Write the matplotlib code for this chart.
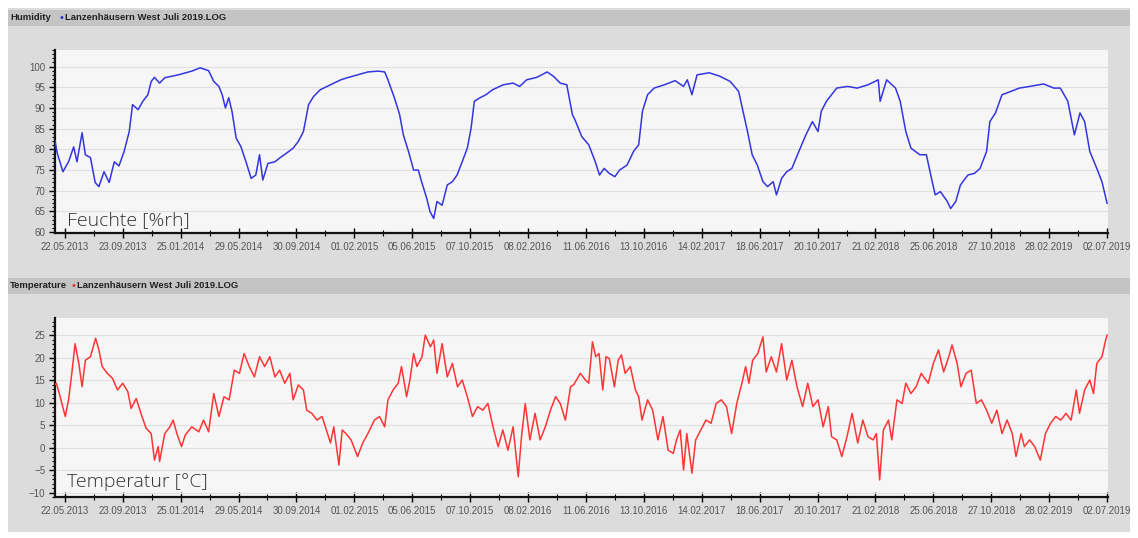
import numpy as np
import matplotlib
matplotlib.use("Agg")
import matplotlib.pyplot as plt
from matplotlib.patches import Rectangle
from matplotlib.ticker import MultipleLocator

# day offsets are counted from the first date label (22.05.2013)
start = np.datetime64("2013-05-22")
label_step = 124
n_labels = 19

hum_days = [-21, -16, -4, 8, 19, 26, 37, 44, 55, 65,
            73, 84, 95, 106, 116, 127, 138, 145, 157, 167,
            178, 185, 192, 203, 214, 243, 272, 290, 308, 319,
            330, 337, 344, 351, 358, 367, 377, 388, 399, 409,
            417, 424, 435, 450, 460, 475, 489, 500, 511, 522,
            533, 547, 569, 591, 605, 627, 649, 671, 685, 692,
            706, 717, 725, 736, 747, 757, 764, 775, 782, 790,
            797, 808, 819, 830, 840, 851, 862, 870, 877, 888,
            902, 916, 939, 960, 974, 989, 1011, 1033, 1047, 1061,
            1075, 1087, 1093, 1107, 1122, 1136, 1145, 1155, 1166, 1178,
            1188, 1204, 1218, 1229, 1237, 1248, 1262, 1284, 1307, 1325,
            1333, 1343, 1354, 1380, 1402, 1425, 1443, 1454, 1462, 1472,
            1483, 1495, 1505, 1517, 1524, 1535, 1546, 1557, 1572, 1587,
            1601, 1613, 1620, 1631, 1653, 1676, 1697, 1720, 1742, 1746,
            1760, 1779, 1789, 1801, 1812, 1831, 1845, 1856, 1864, 1875,
            1890, 1897, 1908, 1918, 1934, 1948, 1960, 1974, 1981, 1993,
            2007, 2026, 2044, 2066, 2096, 2118, 2132, 2148, 2162, 2174,
            2184, 2195, 2210, 2221, 2232]
hum_vals = [82, 79, 74.6, 77, 80.6, 77, 84, 78.7, 78, 72,
            71, 74.6, 72, 77, 76, 79.5, 84.3, 90.8, 89.6, 91.6,
            93.2, 96.4, 97.4, 96, 97.3, 98, 98.9, 99.7, 99, 96.4,
            95.2, 93.2, 90, 92.5, 89.2, 82.7, 80.7, 77, 73, 73.8,
            78.7, 72.6, 76.6, 77, 77.9, 79.1, 80.3, 81.9, 84.3, 90.8,
            92.8, 94.4, 95.6, 96.8, 97.3, 98, 98.7, 98.9, 98.7, 96.8,
            92.4, 88.4, 83.5, 79.5, 75, 75, 72.2, 68.2, 65, 63.3,
            67.4, 66.5, 71.4, 72.2, 73.8, 77, 80.3, 85.1, 91.6, 92.4,
            93.2, 94.4, 95.6, 96, 95.2, 96.8, 97.4, 98.7, 97.6, 96,
            95.6, 88.4, 87, 83.1, 81.1, 77, 73.8, 75.4, 74.2, 73.4,
            75, 76.2, 79.5, 81.1, 89.2, 93.2, 94.8, 95.6, 96.6, 95.2,
            96.8, 93.2, 98, 98.5, 97.7, 96.4, 94, 88.4, 84.3, 78.7,
            76.2, 72.2, 71, 72.2, 69, 73, 74.6, 75.4, 79.5, 83.5,
            86.7, 84.3, 89.2, 91.6, 94.8, 95.2, 94.8, 95.6, 96.8, 91.6,
            96.8, 94.8, 91.6, 84.3, 80.3, 78.7, 78.7, 73, 69, 69.8,
            67.4, 65.7, 67.4, 71.4, 73.8, 74.2, 75.4, 79.5, 86.7, 88.8,
            93.2, 94, 94.8, 95.2, 95.8, 94.8, 94.8, 91.6, 83.5, 88.8,
            86.7, 79.5, 75.4, 72.2, 67]

temp_days = [-25, -18, -10, 1, 8, 15, 22, 30, 37, 44,
             55, 66, 73, 80, 91, 102, 113, 124, 135, 142,
             153, 163, 174, 185, 192, 200, 203, 214, 225, 232,
             240, 250, 258, 272, 287, 297, 308, 319, 330, 341,
             352, 363, 374, 384, 395, 406, 417, 428, 439, 450,
             460, 471, 482, 489, 500, 511, 518, 529, 540, 551,
             558, 569, 576, 587, 594, 602, 613, 627, 638, 649,
             663, 674, 685, 692, 703, 714, 721, 732, 739, 747,
             754, 765, 772, 783, 790, 797, 808, 819, 830, 841,
             851, 862, 873, 884, 895, 906, 917, 928, 938, 949,
             960, 971, 978, 986, 996, 1007, 1018, 1029, 1040, 1051,
             1061, 1072, 1083, 1090, 1104, 1115, 1122, 1130, 1137, 1144,
             1152, 1159, 1166, 1177, 1185, 1192, 1200, 1211, 1222, 1229,
             1236, 1248, 1259, 1270, 1281, 1292, 1303, 1310, 1318, 1325,
             1332, 1343, 1351, 1362, 1373, 1384, 1395, 1406, 1417, 1428,
             1439, 1450, 1458, 1465, 1473, 1484, 1495, 1502, 1513, 1524,
             1535, 1546, 1557, 1568, 1580, 1591, 1602, 1613, 1624, 1635,
             1642, 1653, 1664, 1675, 1686, 1698, 1709, 1720, 1731, 1738,
             1745, 1753, 1764, 1771, 1782, 1793, 1801, 1812, 1823, 1834,
             1849, 1860, 1871, 1882, 1893, 1900, 1911, 1919, 1930, 1941,
             1952, 1963, 1974, 1985, 1996, 2007, 2018, 2029, 2037, 2048,
             2055, 2066, 2077, 2089, 2100, 2111, 2122, 2133, 2144, 2155,
             2166, 2173, 2184, 2195, 2203, 2210, 2221, 2229, 2232]
temp_vals = [13.5, 14.3, 11.3, 6.9, 10.6, 16.5, 23.1, 18.7, 13.5, 19.4,
             20.2, 24.3, 21.7, 18, 16.5, 15.4, 12.8, 14.3, 12.4, 8.7,
             10.9, 7.6, 4.3, 3.1, -2.8, 0.2, -3.1, 3.1, 4.6, 6.1,
             3.1, 0.2, 2.8, 4.6, 3.5, 6.1, 3.5, 12, 6.9, 11.3,
             10.6, 17.2, 16.5, 20.9, 18, 15.7, 20.2, 18, 20.2, 15.7,
             17.2, 14.3, 16.5, 10.6, 13.9, 12.8, 8.3, 7.6, 6.1, 6.9,
             4.6, 1, 4.6, -3.9, 3.9, 3.1, 1.7, -2, 1, 3.1,
             6.1, 6.9, 4.6, 10.6, 12.8, 14.3, 18, 11.3, 15, 20.9,
             18, 20.2, 25, 22.4, 23.9, 16.5, 23.1, 15.7, 18.7, 13.5,
             15, 11.3, 6.9, 9.1, 8.3, 9.8, 4.6, 0.2, 3.9, -0.6,
             4.6, -6.5, 2.4, 9.8, 1.7, 7.6, 1.7, 4.6, 8.3, 11.3,
             9.8, 6.1, 13.5, 14, 16.5, 15, 14.3, 23.5, 20.2, 20.9,
             12.8, 20.2, 19.8, 13.5, 19.4, 20.6, 16.5, 18, 12.8, 11.3,
             6.1, 10.6, 8.3, 1.7, 6.9, -0.6, -1.3, 1.7, 3.9, -5,
             3.1, -5.7, 1.7, 3.9, 6.1, 5.4, 9.8, 10.6, 9.1, 3.1,
             9.8, 14.3, 18, 14.3, 19.4, 20.9, 24.6, 16.8, 20.2, 16.8,
             23.1, 15, 19.4, 13.5, 9.1, 14.3, 9.1, 10.6, 4.6, 9.1,
             2.4, 1.7, -2, 2.4, 7.6, 1, 6.1, 2.4, 1.7, 3.1,
             -7.2, 3.9, 6.1, 1.7, 10.6, 9.8, 14.3, 12, 13.5, 16.5,
             14.3, 18.7, 21.7, 16.8, 20.2, 22.8, 18.7, 13.5, 16.5, 17.2,
             9.8, 10.6, 8.3, 5.4, 8.3, 3.1, 6.1, 3.1, -2, 3.1,
             0.2, 1.7, 0.2, -2.8, 3.1, 5.4, 6.9, 6.1, 7.6, 6.1,
             12.8, 7.6, 12.8, 15, 12, 18.7, 20.2, 23.9, 25]

W, H = 1138, 538
fig = plt.figure(figsize=(W / 100, H / 100), dpi=100)
fig.patch.set_facecolor("white")


def fx(px):
    return px / W


def fy(py):
    return 1 - py / H


def rect(x0, y0, x1, y1, color):
    fig.add_artist(Rectangle((fx(x0), fy(y1)), fx(x1) - fx(x0), fy(y0) - fy(y1),
                             transform=fig.transFigure, color=color, zorder=0, lw=0))


# background and title bars
rect(8, 8, 1130, 532, "#dcdcdc")
rect(8, 10, 1130, 26, "#c4c4c4")
rect(8, 278, 1130, 294, "#c4c4c4")

small = dict(family="Liberation Sans", fontsize=6.8, color="#222222", va="center")
fig.text(fx(10), fy(18), "Humidity", fontweight="bold", **small)
fig.text(fx(59), fy(18), "\u2022", fontsize=7, color="#3030d0", va="center")
fig.text(fx(65), fy(18), "Lanzenh\u00e4usern West Juli 2019.LOG", fontweight="bold", **small)
fig.text(fx(10), fy(286), "Temperature", fontweight="bold", **small)
fig.text(fx(71), fy(286), "\u2022", fontsize=7, color="#e03030", va="center")
fig.text(fx(77), fy(286), "Lanzenh\u00e4usern West Juli 2019.LOG", fontweight="bold", **small)

major = [start + np.timedelta64(k * label_step, "D") for k in range(n_labels)]
minor = [start + np.timedelta64(k * label_step + label_step // 2, "D") for k in range(n_labels - 1)]
labels = [str(d) for d in major]
labels = [s[8:10] + "." + s[5:7] + "." + s[0:4] for s in labels]


def panel(top, bottom, days, vals, color, ylim, ystep, text, text_y):
    ax = fig.add_axes([fx(55), fy(bottom), fx(1108) - fx(55), fy(top) - fy(bottom)])
    ax.set_facecolor("#f6f6f6")
    dates = start + np.array(days, dtype="timedelta64[D]")
    ax.plot(dates, vals, color=color, lw=1.1, zorder=3)
    ax.set_xlim(start - np.timedelta64(21, "D"), start + np.timedelta64(2234, "D"))
    ax.set_ylim(*ylim)
    ax.yaxis.set_major_locator(MultipleLocator(ystep))
    ax.yaxis.set_minor_locator(MultipleLocator(1))
    ax.set_xticks(major)
    ax.set_xticks(minor, minor=True)
    ax.set_xticklabels(labels)
    ax.grid(axis="y", color="#e0e0e0", lw=0.8)
    ax.set_axisbelow(True)
    for s in ["top", "right"]:
        ax.spines[s].set_visible(False)
    for s in ["left", "bottom"]:
        ax.spines[s].set_linewidth(1.6)
        ax.spines[s].set_color("#111111")
    ax.tick_params(axis="both", which="major", labelsize=7, labelcolor="#555555", width=1)
    ax.tick_params(axis="y", which="major", length=4, pad=3)
    ax.tick_params(axis="y", which="minor", length=2, width=0.8)
    ax.tick_params(axis="x", which="major", direction="inout", length=7, pad=3)
    ax.tick_params(axis="x", which="minor", direction="inout", length=4, width=0.8)
    for lab in ax.get_xticklabels() + ax.get_yticklabels():
        lab.set_family("Liberation Sans")
    fig.text(fx(67), fy(text_y), text, fontsize=14, family="Open Sans", fontweight="light",
             color="#333333", va="baseline")
    return ax


panel(50, 233, hum_days, hum_vals, "#3535e0", (59.8, 104), 5, "Feuchte [%rh]", 225)
panel(318, 497, temp_days, temp_vals, "#ff3535", (-11, 28.8), 5, "Temperatur [\u00b0C]", 487)

fig.savefig("out.png", dpi=100)
